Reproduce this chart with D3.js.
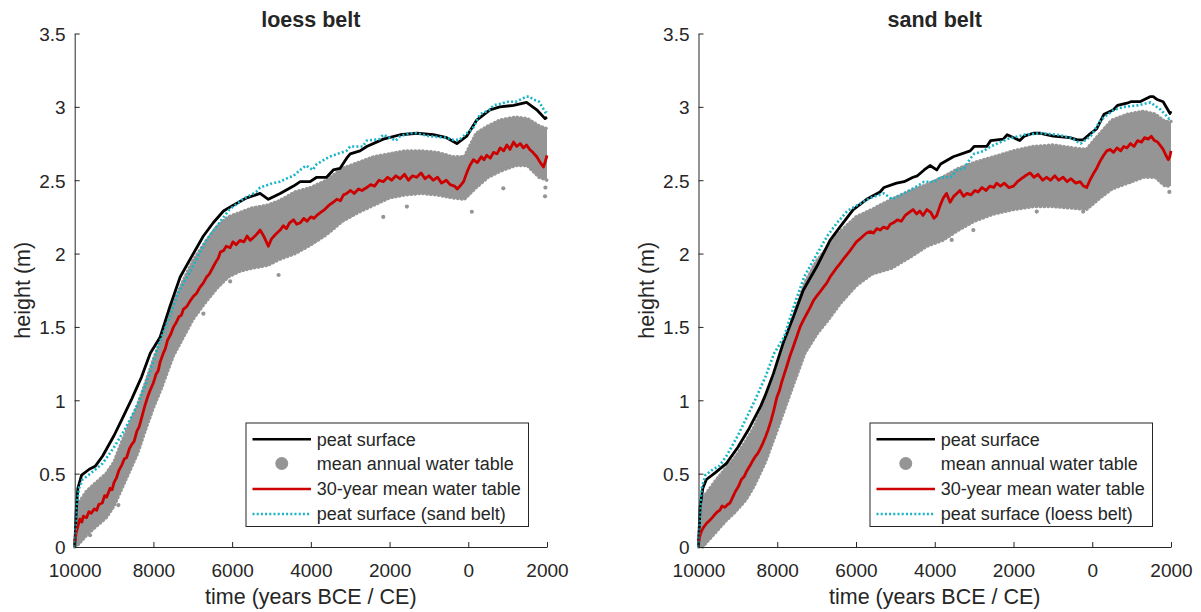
<!DOCTYPE html>
<html><head><meta charset="utf-8">
<script src="https://cdn.jsdelivr.net/npm/d3@7"></script>
<style>
body{margin:0;background:#fff}
svg{display:block}
text{font-family:"Liberation Sans",Arial,Helvetica,sans-serif;fill:#262626}
</style>
</head><body>
<svg id="chart" width="1201" height="612"></svg>
<script>
// ---------- data (year: negative = BCE, positive = CE; height in m) ----------
const xTickValues = [-10000,-8000,-6000,-4000,-2000,0,2000];
const xTickLabels = ["10000","8000","6000","4000","2000","0","2000"];
const yTickValues = [0,0.5,1,1.5,2,2.5,3,3.5];
const yTickLabels = ["0","0.5","1","1.5","2","2.5","3","3.5"];
const panelTitles = ["loess belt","sand belt"];
const xAxisLabel = "time (years BCE / CE)";
const yAxisLabel = "height (m)";
const legendLoess = ["peat surface","mean annual water table","30-year mean water table","peat surface (sand belt)"];
const legendSand  = ["peat surface","mean annual water table","30-year mean water table","peat surface (loess belt)"];

const loessSurface = [[-10000,0],[-9960,0.25],[-9920,0.40],[-9825,0.49],[-9630,0.53],[-9480,0.55],[-9290,0.62],[-9000,0.76],[-8800,0.87],[-8550,1.01],[-8300,1.16],[-8080,1.32],[-7830,1.43],[-7580,1.64],[-7320,1.84],[-7070,1.96],[-6730,2.12],[-6480,2.21],[-6220,2.29],[-5970,2.33],[-5630,2.38],[-5290,2.41],[-5080,2.37],[-4780,2.41],[-4440,2.46],[-4270,2.49],[-4020,2.49],[-3850,2.52],[-3600,2.52],[-3430,2.57],[-3260,2.58],[-3090,2.65],[-3000,2.68],[-2750,2.70],[-2580,2.73],[-2160,2.78],[-1730,2.81],[-1310,2.82],[-890,2.81],[-550,2.79],[-290,2.75],[-40,2.80],[215,2.91],[550,2.98],[800,3.00],[1150,3.01],[1480,3.03],[1740,2.98],[1950,2.92],[2000,2.93]];

const sandSurface = [[-10000,0],[-9960,0.27],[-9890,0.40],[-9800,0.46],[-9580,0.505],[-9290,0.57],[-9000,0.68],[-8710,0.81],[-8420,0.96],[-8310,1.03],[-8100,1.18],[-7850,1.39],[-7590,1.57],[-7340,1.75],[-7000,1.91],[-6660,2.09],[-6410,2.18],[-6070,2.30],[-5730,2.37],[-5390,2.42],[-5290,2.45],[-4970,2.48],[-4780,2.49],[-4550,2.52],[-4440,2.53],[-4270,2.57],[-4120,2.60],[-3950,2.57],[-3850,2.61],[-3530,2.66],[-3100,2.70],[-3000,2.73],[-2680,2.73],[-2580,2.77],[-2260,2.78],[-2160,2.81],[-1840,2.77],[-1730,2.80],[-1500,2.82],[-1310,2.82],[-990,2.80],[-570,2.79],[-380,2.775],[-230,2.775],[-40,2.82],[110,2.85],[300,2.95],[540,2.98],[640,3.01],[880,3.025],[980,3.035],[1210,3.035],[1480,3.07],[1550,3.07],[1650,3.05],[1800,3.035],[1975,2.955],[2000,2.97]];

const loessWater30 = [[-10000,0.03],[-9960,0.10],[-9920,0.14],[-9870,0.19],[-9820,0.17],[-9780,0.21],[-9700,0.20],[-9640,0.24],[-9580,0.23],[-9500,0.26],[-9440,0.25],[-9390,0.29],[-9300,0.30],[-9240,0.35],[-9190,0.34],[-9100,0.40],[-9050,0.39],[-9000,0.44],[-8940,0.47],[-8880,0.52],[-8800,0.56],[-8740,0.60],[-8680,0.61],[-8610,0.67],[-8550,0.70],[-8490,0.72],[-8420,0.79],[-8360,0.82],[-8300,0.88],[-8220,0.96],[-8150,1.02],[-8080,1.07],[-8000,1.12],[-7930,1.18],[-7880,1.20],[-7830,1.26],[-7750,1.32],[-7700,1.35],[-7640,1.41],[-7560,1.45],[-7490,1.50],[-7420,1.53],[-7350,1.57],[-7290,1.58],[-7240,1.62],[-7150,1.64],[-7060,1.68],[-6980,1.71],[-6900,1.73],[-6820,1.77],[-6730,1.80],[-6650,1.84],[-6580,1.86],[-6480,1.91],[-6420,1.94],[-6350,1.97],[-6300,2.01],[-6220,2.02],[-6150,2.05],[-6050,2.04],[-5980,2.08],[-5900,2.06],[-5800,2.09],[-5700,2.08],[-5620,2.12],[-5540,2.09],[-5460,2.11],[-5380,2.13],[-5290,2.16],[-5200,2.12],[-5130,2.08],[-5080,2.05],[-5000,2.10],[-4900,2.13],[-4780,2.16],[-4700,2.19],[-4620,2.17],[-4540,2.21],[-4440,2.23],[-4360,2.20],[-4270,2.21],[-4180,2.24],[-4100,2.22],[-4000,2.25],[-3920,2.24],[-3850,2.26],[-3750,2.28],[-3650,2.30],[-3540,2.33],[-3430,2.35],[-3340,2.37],[-3250,2.36],[-3170,2.40],[-3090,2.41],[-2990,2.43],[-2900,2.41],[-2790,2.44],[-2700,2.43],[-2580,2.45],[-2480,2.47],[-2380,2.46],[-2270,2.50],[-2160,2.49],[-2050,2.52],[-1950,2.50],[-1840,2.53],[-1730,2.51],[-1620,2.54],[-1520,2.50],[-1420,2.53],[-1310,2.52],[-1200,2.55],[-1100,2.51],[-1000,2.53],[-890,2.50],[-780,2.52],[-680,2.48],[-560,2.50],[-460,2.47],[-350,2.46],[-280,2.44],[-210,2.46],[-120,2.49],[-40,2.55],[40,2.60],[130,2.64],[230,2.62],[330,2.66],[400,2.64],[470,2.67],[560,2.65],[640,2.69],[730,2.68],[810,2.72],[900,2.70],[980,2.74],[1060,2.71],[1150,2.76],[1230,2.73],[1320,2.75],[1400,2.72],[1480,2.74],[1560,2.71],[1640,2.69],[1740,2.66],[1830,2.62],[1910,2.59],[1960,2.63],[2000,2.67]];

const sandWater30 = [[-10000,0.03],[-9960,0.08],[-9920,0.11],[-9880,0.13],[-9800,0.16],[-9720,0.18],[-9650,0.20],[-9590,0.22],[-9520,0.24],[-9460,0.25],[-9400,0.28],[-9330,0.27],[-9260,0.29],[-9200,0.30],[-9130,0.34],[-9060,0.38],[-8990,0.41],[-8910,0.46],[-8840,0.48],[-8770,0.52],[-8700,0.55],[-8620,0.59],[-8550,0.62],[-8490,0.64],[-8430,0.67],[-8360,0.71],[-8300,0.75],[-8230,0.80],[-8160,0.86],[-8090,0.93],[-8010,1.02],[-7940,1.07],[-7880,1.13],[-7820,1.18],[-7760,1.23],[-7680,1.30],[-7600,1.36],[-7510,1.43],[-7420,1.50],[-7330,1.55],[-7250,1.59],[-7170,1.63],[-7080,1.68],[-7000,1.71],[-6910,1.74],[-6830,1.77],[-6740,1.80],[-6660,1.84],[-6580,1.87],[-6500,1.90],[-6410,1.93],[-6330,1.96],[-6240,1.99],[-6150,2.02],[-6070,2.05],[-5990,2.08],[-5900,2.10],[-5820,2.12],[-5730,2.14],[-5640,2.15],[-5560,2.14],[-5470,2.17],[-5390,2.16],[-5300,2.18],[-5200,2.17],[-5130,2.20],[-5050,2.21],[-4950,2.23],[-4850,2.22],[-4750,2.26],[-4650,2.28],[-4550,2.30],[-4460,2.27],[-4380,2.29],[-4300,2.26],[-4200,2.30],[-4100,2.28],[-4020,2.24],[-3950,2.26],[-3860,2.33],[-3780,2.38],[-3700,2.41],[-3610,2.35],[-3520,2.39],[-3440,2.41],[-3360,2.43],[-3270,2.39],[-3180,2.41],[-3080,2.40],[-2980,2.43],[-2900,2.42],[-2800,2.45],[-2700,2.43],[-2600,2.46],[-2500,2.45],[-2430,2.48],[-2330,2.46],[-2230,2.48],[-2120,2.45],[-2000,2.46],[-1900,2.49],[-1800,2.51],[-1700,2.53],[-1580,2.55],[-1480,2.52],[-1380,2.54],[-1260,2.50],[-1160,2.52],[-1060,2.50],[-950,2.53],[-850,2.50],[-740,2.52],[-640,2.49],[-540,2.51],[-420,2.48],[-310,2.49],[-220,2.46],[-140,2.45],[-60,2.50],[20,2.54],[110,2.58],[200,2.63],[290,2.67],[370,2.70],[450,2.71],[540,2.69],[630,2.72],[720,2.70],[800,2.73],[880,2.72],[970,2.75],[1060,2.73],[1150,2.77],[1250,2.76],[1330,2.79],[1420,2.78],[1500,2.80],[1580,2.77],[1660,2.76],[1720,2.74],[1800,2.71],[1870,2.67],[1930,2.64],[1970,2.66],[2000,2.70]];

// spread of the annual water-table points: [year, lowest, highest]
const loessAnnualBand = [[-10000,0,0.02],[-9900,0.02,0.30],[-9700,0.08,0.38],[-9500,0.13,0.43],[-9200,0.20,0.50],[-9000,0.28,0.58],[-8800,0.40,0.72],[-8600,0.52,0.84],[-8400,0.64,0.97],[-8200,0.80,1.12],[-8000,0.95,1.28],[-7800,1.08,1.42],[-7500,1.30,1.66],[-7200,1.45,1.84],[-7000,1.55,1.95],[-6700,1.66,2.07],[-6400,1.76,2.18],[-6100,1.84,2.25],[-5800,1.88,2.28],[-5500,1.90,2.31],[-5100,1.92,2.33],[-4800,1.96,2.36],[-4400,2.00,2.42],[-4000,2.06,2.45],[-3600,2.13,2.50],[-3200,2.22,2.58],[-2800,2.28,2.62],[-2400,2.33,2.66],[-2000,2.38,2.68],[-1600,2.40,2.70],[-1200,2.41,2.70],[-800,2.40,2.69],[-400,2.38,2.66],[-100,2.37,2.66],[200,2.45,2.82],[500,2.52,2.87],[800,2.56,2.91],[1200,2.60,2.93],[1500,2.60,2.92],[1800,2.52,2.87],[2000,2.50,2.85]];
const sandAnnualBand = [[-10000,0,0.05],[-9900,0.0,0.33],[-9600,0.09,0.44],[-9300,0.18,0.54],[-9100,0.23,0.60],[-8800,0.32,0.72],[-8600,0.41,0.81],[-8300,0.58,1.0],[-8000,0.80,1.22],[-7600,1.10,1.56],[-7300,1.32,1.80],[-7000,1.45,1.95],[-6700,1.55,2.05],[-6400,1.66,2.15],[-6000,1.78,2.25],[-5600,1.86,2.30],[-5100,1.90,2.37],[-4600,1.98,2.43],[-4200,2.05,2.47],[-3800,2.09,2.52],[-3400,2.16,2.58],[-3000,2.22,2.62],[-2500,2.27,2.66],[-2000,2.30,2.70],[-1500,2.32,2.73],[-1000,2.32,2.74],[-500,2.31,2.72],[-150,2.30,2.71],[200,2.38,2.82],[500,2.44,2.91],[900,2.48,2.95],[1300,2.52,2.97],[1600,2.52,2.95],[1850,2.46,2.90],[2000,2.46,2.90]];
// isolated annual points outside the dense band
const loessAnnualOutliers = [[-9610,0.08],[-8890,0.286],[-6730,1.59],[-6050,1.81],[-5290,1.92],[-4820,1.854],[-2160,2.25],[-1560,2.32],[90,2.285],[890,2.445],[1950,2.39],[1960,2.45]];
const sandAnnualOutliers = [[-6360,1.695],[-3570,2.093],[-3020,2.16],[-1410,2.286],[-230,2.286],[960,2.49],[1958,2.42]];

// ---------- drawing ----------
const svg = d3.select("#chart");
const C = {black:"#000000", gray:"#959595", red:"#cc0000", cyan:"#17b3c6", axis:"#262626"};

const panels = [
  {x0:74.7, x1:547, title:panelTitles[0], surface:loessSurface, other:sandSurface, water:loessWater30, band:loessAnnualBand, outliers:loessAnnualOutliers, legend:legendLoess},
  {x0:698.5, x1:1171, title:panelTitles[1], surface:sandSurface, other:loessSurface, water:sandWater30, band:sandAnnualBand, outliers:sandAnnualOutliers, legend:legendSand}
];
const yTop = 33.5, yBot = 547;

panels.forEach(p => {
  const x = d3.scaleLinear().domain([-10000,2000]).range([p.x0,p.x1]);
  const y = d3.scaleLinear().domain([0,3.5]).range([yBot,yTop]);
  const g = svg.append("g");

  // annual water table spread
  const area = d3.area().x(d=>x(d[0])).y0(d=>y(d[1])).y1(d=>y(d[2]));
  g.append("path").datum(p.band).attr("d",area).attr("fill",C.gray);
  ["lo","hi"].forEach((k,i)=>{
    g.append("path").datum(p.band)
      .attr("d", d3.line().x(d=>x(d[0])).y(d=>y(d[i+1])))
      .attr("fill","none").attr("stroke",C.gray).attr("stroke-width",3.4)
      .attr("stroke-linecap","round").attr("stroke-dasharray","0.5 3.4");
  });
  g.selectAll("circle.out").data(p.outliers).enter().append("circle")
    .attr("cx",d=>x(d[0])).attr("cy",d=>y(d[1])).attr("r",2.1).attr("fill",C.gray);

  const line = d3.line().x(d=>x(d[0])).y(d=>y(d[1]));
  g.append("path").datum(p.surface).attr("d",line).attr("fill","none")
    .attr("stroke",C.black).attr("stroke-width",2.8).attr("stroke-linejoin","round");
  g.append("path").datum(p.water).attr("d",line).attr("fill","none")
    .attr("stroke",C.red).attr("stroke-width",2.8).attr("stroke-linejoin","round");
  g.append("path").datum(p.other).attr("d",line).attr("fill","none")
    .attr("stroke",C.cyan).attr("stroke-width",2.6).attr("stroke-dasharray","2 2.2");

  // axes
  const xAxis = d3.axisBottom(x).tickValues(xTickValues).tickFormat((d,i)=>xTickLabels[i]).tickSizeInner(-5).tickSizeOuter(0);
  const gx = g.append("g").attr("transform",`translate(0,${yBot})`).call(xAxis);
  const yAxis = d3.axisLeft(y).tickValues(yTickValues).tickFormat((d,i)=>yTickLabels[i]).tickSizeInner(-5).tickSizeOuter(0).tickPadding(9);
  const gy = g.append("g").attr("transform",`translate(${p.x0},0)`).call(yAxis);
  [gx,gy].forEach(a=>{
    a.select(".domain").attr("stroke",C.axis).attr("stroke-width",1);
    a.selectAll(".tick line").attr("stroke",C.axis).attr("stroke-width",1);
    a.selectAll(".tick text").attr("fill",C.axis).style("font-size","19px")
      .style("font-family","'Liberation Sans',Arial,sans-serif");
  });
  gx.selectAll(".tick text").attr("y",16.5).attr("dy","0.71em");
  gy.selectAll(".tick text").attr("dy","0.36em");

  // title & labels
  const cx = (p.x0+p.x1)/2;
  g.append("text").attr("x",cx).attr("y",27).attr("text-anchor","middle")
    .style("font-size","21.5px").style("font-weight","bold").attr("fill","#000").text(p.title);
  g.append("text").attr("x",cx).attr("y",604).attr("text-anchor","middle")
    .style("font-size","21.5px").text(xAxisLabel);
  g.append("text").attr("transform",`translate(${p.x0-45},${(yTop+yBot)/2}) rotate(-90)`)
    .attr("text-anchor","middle").style("font-size","21.5px").text(yAxisLabel);

  // legend
  const lx1 = p.x1-18.5, lx0 = lx1-282.5, ly1 = yBot-20.5, ly0 = ly1-103.5;
  const lg = g.append("g");
  lg.append("rect").attr("x",lx0).attr("y",ly0).attr("width",lx1-lx0).attr("height",ly1-ly0)
    .attr("fill","#fff").attr("stroke",C.axis).attr("stroke-width",1);
  const rows = [16.3,40.5,66,91];
  const sx0 = lx0+6.5, sx1 = lx0+65, tx = lx0+70.7;
  const styles = [
    {type:"line",color:C.black},{type:"dot",color:C.gray},{type:"line",color:C.red},{type:"dash",color:C.cyan}
  ];
  styles.forEach((s,i)=>{
    const yy = ly0+rows[i];
    if(s.type==="dot"){
      lg.append("circle").attr("cx",(sx0+sx1)/2).attr("cy",yy).attr("r",6.5).attr("fill",s.color);
    } else {
      lg.append("line").attr("x1",sx0).attr("x2",sx1).attr("y1",yy).attr("y2",yy)
        .attr("stroke",s.color).attr("stroke-width",2.6)
        .attr("stroke-dasharray",s.type==="dash"?"2 2.2":null);
    }
    lg.append("text").attr("x",tx).attr("y",yy).attr("dy","0.35em")
      .style("font-size","18px").attr("fill","#000").text(p.legend[i]);
  });
});
</script>
</body></html>
